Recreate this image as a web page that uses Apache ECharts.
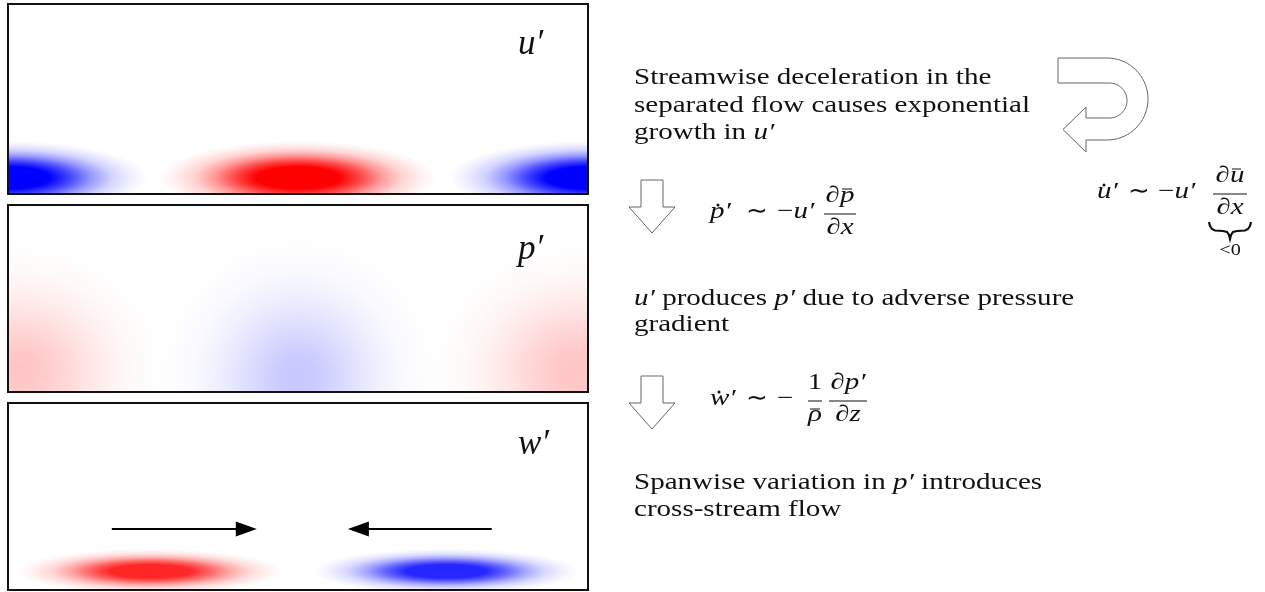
<!DOCTYPE html>
<html><head><meta charset="utf-8">
<script src="https://cdn.jsdelivr.net/npm/echarts@6/dist/echarts.min.js"></script>
<style>html,body{margin:0;padding:0;background:#fff}#c{width:1265px;height:592px}</style>
</head><body><div id="c"></div>
<script>
// ---- data: perturbation structures, [spanwise x (0-100), wall-normal y (0-100), half width, half height, amplitude (+ red / - blue)]
const uBlobs = [[0, 8.5, 24, 19.5, -1], [50, 8.5, 24, 19.5, 1], [100, 8.5, 24, 19.5, -1]];
const pBlobs = [[2, 12, 26, 70, 0.23], [50, 8, 24, 76, -0.22], [98, 12, 26, 70, 0.23]];
const wBlobs = [[24.5, 10, 23, 12, 0.85], [75.5, 10, 23, 12, -0.85]];
// cross-stream flow arrows [x from, y, x to, y]
const wArrows = [[17.9, 32.6, 42.9, 32.6], [83.4, 32.6, 58.6, 32.6]];
const panelLabels = ['u′', 'p′', 'w′'];
const notes = [
  ['Streamwise deceleration in the', 'separated flow causes exponential', 'growth in {i|u′}'],
  ['{i|u′} produces {i|p′} due to adverse pressure', 'gradient'],
  ['Spanwise variation in {i|p′} introduces', 'cross-stream flow']
];

const FAM = '"Liberation Serif"';
const mctx = document.createElement('canvas').getContext('2d');
function measure(t, font) { mctx.font = font; return mctx.measureText(t).width; }
const BODY = 23;
const SX = 396 / measure('separated flow causes exponential', BODY + 'px ' + FAM);

function rich(fs) {
  return { i: { fontStyle: 'italic', fontSize: fs, fontFamily: FAM, fill: '#111' },
           n: { fontStyle: 'normal', fontSize: fs, fontFamily: FAM, fill: '#111' } };
}
function txt(x, base, text, o) {
  o = o || {};
  const fs = o.size || BODY;
  const al = o.align || 'left';
  return { type: 'text', x: x, y: base - 0.34 * fs, scaleX: (o.sx != null ? o.sx : SX), z: 50,
    style: { text: text, fontFamily: FAM, fontSize: fs, fontStyle: o.it ? 'italic' : 'normal', fill: '#111',
      align: al, textAlign: al, verticalAlign: 'middle', textVerticalAlign: 'middle', rich: rich(fs) } };
}
function dot(x, y) { return { type: 'circle', z: 50, shape: { cx: x, cy: y, r: 1.5 }, style: { fill: '#111' } }; }
function hline(x1, x2, y, w) { return { type: 'line', z: 50, shape: { x1: x1, y1: y, x2: x2, y2: y }, style: { stroke: '#111', lineWidth: w || 1 } }; }

const satStops = [[0, 1], [0.3, 1], [0.45, 0.72], [0.6, 0.4], [0.75, 0.17], [0.9, 0.05], [1, 0]];
const gaussStops = [[0, 1], [0.15, 0.92], [0.3, 0.7], [0.45, 0.46], [0.6, 0.25], [0.75, 0.11], [0.9, 0.04], [1, 0]];

function blobRenderer(stops) {
  return function (params, api) {
    const c = api.coord([api.value(0), api.value(1)]);
    const s = api.size([api.value(2), api.value(3)]);
    const amp = api.value(4);
    const a = Math.abs(amp);
    const rgb = amp >= 0 ? '255,0,0' : '0,0,255';
    const R = 50;
    const cs = stops.map(function (st) {
      return { offset: st[0], color: 'rgba(' + rgb + ',' + Math.min(1, st[1] * a).toFixed(3) + ')' };
    });
    return { type: 'circle', x: c[0], y: c[1], scaleX: s[0] / R, scaleY: s[1] / R,
      shape: { cx: 0, cy: 0, r: R },
      style: { fill: new echarts.graphic.RadialGradient(0.5, 0.5, 0.5, cs) } };
  };
}
function arrowItem(params, api) {
  const a = api.coord([api.value(0), api.value(1)]);
  const b = api.coord([api.value(2), api.value(3)]);
  const d = Math.sign(b[0] - a[0]);
  const L = 21, H = 7.5;
  return { type: 'group', children: [
    { type: 'line', shape: { x1: a[0], y1: a[1], x2: b[0] - d * L * 0.8, y2: b[1] }, style: { stroke: '#000', lineWidth: 2 } },
    { type: 'polygon', shape: { points: [[b[0], b[1]], [b[0] - d * L, b[1] - H], [b[0] - d * L, b[1] + H]] }, style: { fill: '#000' } }
  ] };
}

const grids = [
  { left: 8, top: 4, width: 580, height: 190 },
  { left: 8, top: 205, width: 580, height: 187 },
  { left: 8, top: 403, width: 580, height: 187 }
];
const xAxes = grids.map(function (g, i) { return { type: 'value', gridIndex: i, min: 0, max: 100, show: false }; });
const yAxes = grids.map(function (g, i) { return { type: 'value', gridIndex: i, min: 0, max: 100, show: false }; });

const series = [
  { type: 'custom', xAxisIndex: 0, yAxisIndex: 0, clip: true, data: uBlobs, renderItem: blobRenderer(satStops), silent: true },
  { type: 'custom', xAxisIndex: 1, yAxisIndex: 1, clip: true, data: pBlobs, renderItem: blobRenderer(gaussStops), silent: true },
  { type: 'custom', xAxisIndex: 2, yAxisIndex: 2, clip: true, data: wBlobs, renderItem: blobRenderer(satStops), silent: true },
  { type: 'custom', xAxisIndex: 2, yAxisIndex: 2, clip: true, data: wArrows, renderItem: arrowItem, silent: true, z: 5 }
];

// ---- graphic annotations
const G = [];
grids.forEach(function (g) {
  G.push({ type: 'rect', z: 100, shape: { x: g.left, y: g.top, width: g.width, height: g.height },
    style: { fill: null, stroke: '#111', lineWidth: 2 } });
});
const labelBase = [57, 262, 457];
panelLabels.forEach(function (t, i) { G.push(txt(518, labelBase[i], t, { it: true, size: 35, sx: 1 })); });

// paragraphs
const noteMid = [[78, 106, 133], [299, 325], [483, 510]];
notes.forEach(function (lines, i) {
  lines.forEach(function (l, j) { G.push(txt(634, noteMid[i][j] + 0.34 * BODY, l)); });
});

// hollow down arrows
function downArrow(top) {
  return { type: 'polygon', z: 50, shape: { points: [[641, top], [663, top], [663, top + 27], [675, top + 27], [652, top + 53], [629, top + 27], [641, top + 27]] },
    style: { fill: '#fff', stroke: '#666', lineWidth: 1 } };
}
G.push(downArrow(180));
G.push(downArrow(376));

// U-turn arrow
(function () {
  const pts = [[1058, 58]];
  const ocx = 1107, ocy = 99, orr = 41;
  for (let k = 0; k <= 36; k++) { const t = -Math.PI / 2 + Math.PI * k / 36; pts.push([ocx + orr * Math.cos(t), ocy + orr * Math.sin(t)]); }
  pts.push([1086, 140], [1086, 152], [1063, 129.5], [1086, 107], [1086, 118]);
  const icx = 1109.5, icy = 100.5, ir = 17.5;
  for (let k = 0; k <= 36; k++) { const t = Math.PI / 2 - Math.PI * k / 36; pts.push([icx + ir * Math.cos(t), icy + ir * Math.sin(t)]); }
  pts.push([1058, 83]);
  G.push({ type: 'polygon', z: 50, shape: { points: pts }, style: { fill: '#fff', stroke: '#666', lineWidth: 1 } });
})();

const TILDE = { size: 26, sx: 1 };
// equation: u' growth (right)
(function () {
  const B = 200, bar = B - 6, cx = 1230;
  G.push(txt(1097, B, 'u′', { it: true }));
  G.push(dot(1104, B - 15));
  G.push(txt(1128, B + 1, '∼', TILDE));
  G.push(txt(1158, B, '−{i|u′}'));
  G.push(hline(cx - 17, cx + 17, bar, 1));
  G.push(txt(cx, B - 16, '∂{i|u}', { align: 'center' }));
  G.push(hline(cx + 2, cx + 11, B - 31, 1));
  G.push(txt(cx, B + 16, '∂{i|x}', { align: 'center' }));
  const br = [[-21, 220], [-20, 224], [-18, 227], [-15, 228.5], [-7, 229], [-3, 230], [-1, 233], [0, 237], [1, 233], [3, 230], [7, 229], [15, 228.5], [18, 227], [20, 224], [21, 220]];
  G.push({ type: 'polyline', z: 50, shape: { points: br.map(function (p) { return [cx + p[0], p[1] + 2]; }) }, style: { stroke: '#111', lineWidth: 2.2, fill: null } });
  G.push(txt(cx, 256, '<0', { align: 'center', size: 16 }));
})();

// equation: p' production
(function () {
  const B = 220, bar = B - 6, cx = 840;
  G.push(txt(710, B, 'p′', { it: true }));
  G.push(dot(718, B - 15));
  G.push(txt(746, B + 1, '∼', TILDE));
  G.push(txt(777, B, '−{i|u′}'));
  G.push(hline(cx - 16, cx + 16, bar, 1));
  G.push(txt(cx, B - 16, '∂{i|p}', { align: 'center' }));
  G.push(hline(cx + 2, cx + 12, B - 31, 1));
  G.push(txt(cx, B + 16, '∂{i|x}', { align: 'center' }));
})();

// equation: w' from spanwise pressure gradient
(function () {
  const B = 407, bar = B - 6;
  G.push(txt(710, B, 'w′', { it: true }));
  G.push(dot(719, B - 15));
  G.push(txt(746, B + 1, '∼', TILDE));
  G.push(txt(777, B, '−'));
  const c1 = 815;
  G.push(hline(c1 - 7, c1 + 7, bar, 1));
  G.push(txt(c1, B - 16, '1', { align: 'center' }));
  G.push(txt(c1, B + 16, 'ρ', { it: true, align: 'center' }));
  G.push(hline(c1 - 5, c1 + 5, B + 2, 1));
  const c2 = 848;
  G.push(hline(c2 - 19, c2 + 19, bar, 1));
  G.push(txt(c2, B - 16, '∂{i|p′}', { align: 'center' }));
  G.push(txt(c2, B + 16, '∂{i|z}', { align: 'center' }));
})();

const chart = echarts.init(document.getElementById('c'), null, { renderer: 'canvas' });
chart.setOption({
  backgroundColor: '#fff',
  animation: false,
  grid: grids.map(function (g) { return Object.assign({ show: false }, g); }),
  xAxis: xAxes,
  yAxis: yAxes,
  series: series,
  graphic: { elements: G }
});
</script></body></html>
